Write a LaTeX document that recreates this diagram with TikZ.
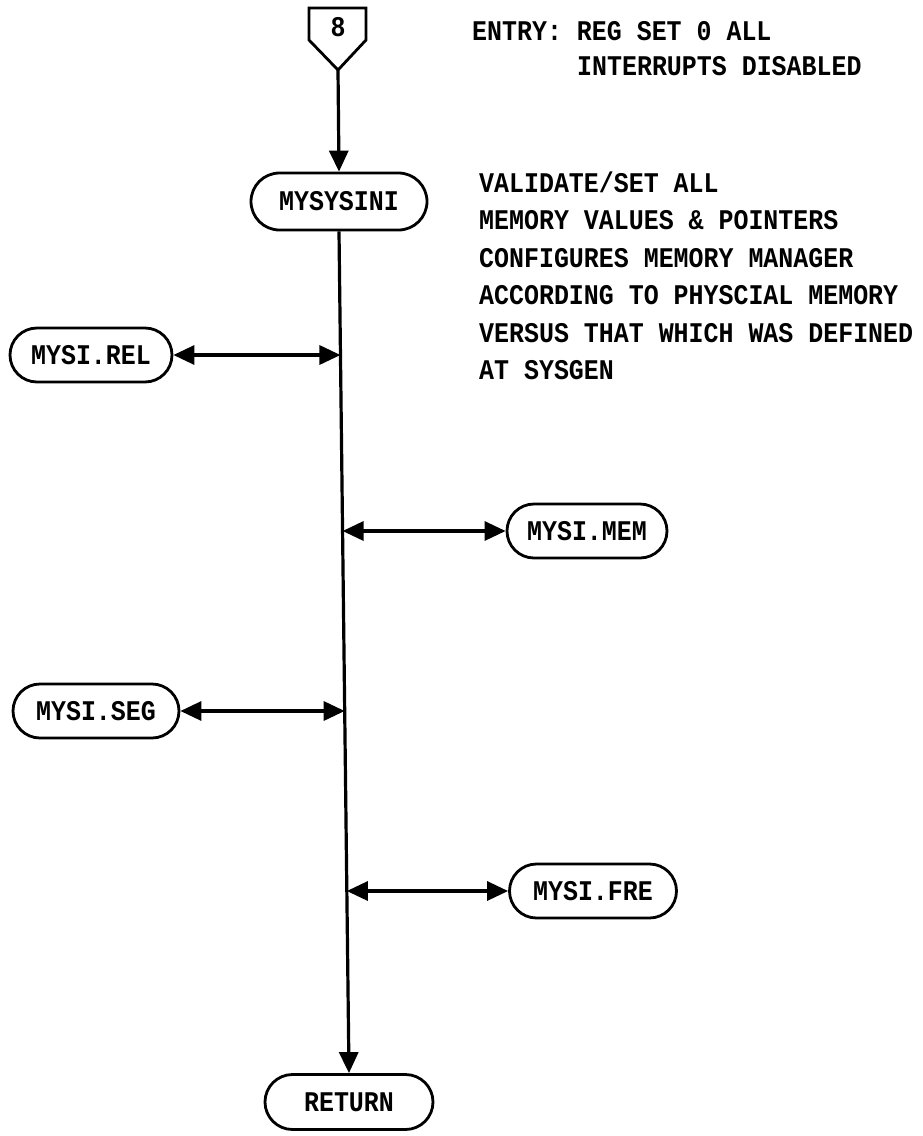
\documentclass[tikz,border=0pt]{standalone}
\usepackage{fontspec}
\usetikzlibrary{arrows.meta,shapes.misc,calc}
\newfontfamily\chartfont{Liberation Mono}[FakeStretch=0.875]
\tikzset{
  x={(1pt,0)}, y={(0,-1pt)},
  chart/.style={font=\chartfont\bfseries\fontsize{28.5}{34}\selectfont},
  terminal/.style={chart, draw, line width=2.8pt, rounded rectangle,
    minimum width=166pt, minimum height=54pt, inner sep=0pt},
  note/.style={chart, anchor=base west, inner sep=0pt},
  flow/.style={line width=3.2pt},
  downarrow/.style={flow, -{Triangle[length=21pt,width=19pt]}},
  biarrow/.style={flow, {Triangle[length=21pt,width=19pt]}-{Triangle[length=21pt,width=19pt]}},
}
\begin{document}
\begin{tikzpicture}
\useasboundingbox (0,0) rectangle (923,1136);

% off-page connector
\coordinate (conntip) at (338,70);
\draw[line width=2.8pt, line join=miter] (309,8) -- (366,8) -- (366,40) -- (conntip) -- (309,40) -- cycle;
\node[chart, inner sep=0pt] (conn) at (338,27) {8};

% terminals
\node[terminal, minimum width=176pt, minimum height=57pt] (mysysini) at (339,201.5) {MYSYSINI};
\node[terminal, minimum width=162pt] (rel) at (91,355) {MYSI.REL};
\node[terminal, minimum width=160pt] (mem) at (587,531) {MYSI.MEM};
\node[terminal] (seg) at (96,711) {MYSI.SEG};
\node[terminal, minimum width=167pt] (fre) at (593,891) {MYSI.FRE};
\node[terminal, minimum width=168pt, minimum height=55pt] (ret) at (349,1102) {RETURN};

% main flow
\draw[downarrow] (conntip) -- (mysysini.north);
\draw[downarrow] (mysysini.south) -- (ret.north);

% junctions on the main flow line
\coordinate (jrel) at ($(mysysini.south)!0.148!(ret.north)$);
\coordinate (jmem) at ($(mysysini.south)!0.358!(ret.north)$);
\coordinate (jseg) at ($(mysysini.south)!0.569!(ret.north)$);
\coordinate (jfre) at ($(mysysini.south)!0.784!(ret.north)$);

\draw[biarrow] (rel.east) -- (rel.east -| jrel);
\draw[biarrow] (mem.west -| jmem) -- (mem.west);
\draw[biarrow] (seg.east) -- (seg.east -| jseg);
\draw[biarrow] (fre.west -| jfre) -- (fre.west);

% annotations
\node[note] (entry1) at (472,40) {ENTRY: REG SET 0 ALL};
\node[note] (entry2) at (577,75) {INTERRUPTS DISABLED};

\node[note] (desc1) at (479,192) {VALIDATE/SET ALL};
\node[note] (desc2) at (479,229.5) {MEMORY VALUES \& POINTERS};
\node[note] (desc3) at (479,267) {CONFIGURES MEMORY MANAGER};
\node[note] (desc4) at (479,304) {ACCORDING TO PHYSCIAL MEMORY};
\node[note] (desc5) at (479,342) {VERSUS THAT WHICH WAS DEFINED};
\node[note] (desc6) at (479,379) {AT SYSGEN};
\end{tikzpicture}
\end{document}
